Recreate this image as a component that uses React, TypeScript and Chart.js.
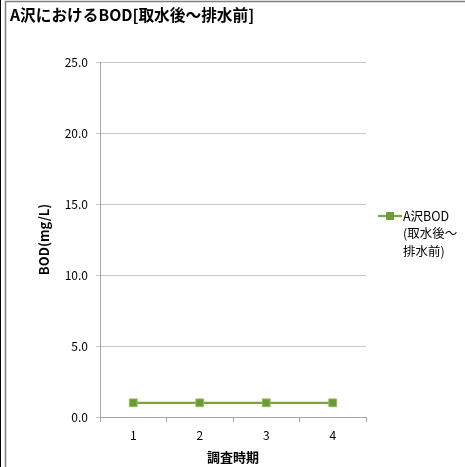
import React, { useEffect, useRef } from "react";
import { Chart, registerables } from "chart.js";

Chart.register(...registerables);

const categories = ["1", "2", "3", "4"];
const bodValues = [1.0, 1.0, 1.0, 1.0];
const seriesName = "A沢BOD(取水後～排水前)";
const legendLines = ["A沢BOD", "(取水後～", "排水前)"];
const titleText = "A沢におけるBOD[取水後～排水前]";
const yTitle = "BOD(mg/L)";
const xTitle = "調査時期";

const LINE_COLOR = "#77a541";
const POINT_FILL = "#6b9a37";
const POINT_BORDER = "#8fbc5a";
const FONT = "'Noto Sans CJK JP', 'Noto Sans', sans-serif";

const decorPlugin = {
  id: "decor",
  beforeDraw(chart: any) {
    const ctx = chart.ctx;
    ctx.save();
    ctx.fillStyle = "#ffffff";
    ctx.fillRect(0, 0, chart.width, chart.height);
    ctx.restore();
  },
  afterDraw(chart: any) {
    const ctx = chart.ctx;
    ctx.save();
    // frame
    ctx.strokeStyle = "#000000";
    ctx.lineWidth = 1;
    ctx.beginPath();
    ctx.moveTo(0.5, 0);
    ctx.lineTo(0.5, chart.height);
    ctx.stroke();
    ctx.strokeStyle = "#7f7f7f";
    ctx.lineWidth = 1.5;
    ctx.beginPath();
    ctx.moveTo(5.5, chart.height + 2);
    ctx.lineTo(5.5, 1.5);
    ctx.lineTo(chart.width + 2, 1.5);
    ctx.stroke();
    // title
    ctx.fillStyle = "#000000";
    ctx.font = "bold 15.7px " + FONT;
    ctx.textBaseline = "middle";
    ctx.textAlign = "left";
    ctx.fillText(titleText, 10, 15);
    // legend
    const lx = 378;
    const ly = 216;
    ctx.strokeStyle = LINE_COLOR;
    ctx.lineWidth = 2.25;
    ctx.beginPath();
    ctx.moveTo(lx, ly);
    ctx.lineTo(lx + 24, ly);
    ctx.stroke();
    ctx.fillStyle = POINT_FILL;
    ctx.fillRect(lx + 8, ly - 4, 8, 8);
    ctx.fillStyle = "#000000";
    ctx.font = "12.5px " + FONT;
    ctx.textBaseline = "middle";
    legendLines.forEach((t, i) => {
      ctx.fillText(t, lx + 25, ly + i * 17.5);
    });
    ctx.restore();
  },
};

export default function App() {
  const ref = useRef<HTMLCanvasElement>(null);
  useEffect(() => {
    document.body.style.margin = "0";
    const chart = new Chart(ref.current as HTMLCanvasElement, {
      type: "line",
      data: {
        labels: categories,
        datasets: [
          {
            label: seriesName,
            data: bodValues,
            borderColor: LINE_COLOR,
            backgroundColor: POINT_FILL,
            borderWidth: 2.25,
            pointStyle: "rect",
            pointRadius: 5.5,
            pointBorderColor: POINT_BORDER,
            pointBorderWidth: 1,
            pointBackgroundColor: POINT_FILL,
          },
        ],
      },
      options: {
        responsive: false,
        animation: false,
        layout: { padding: { left: 36, top: 62, right: 99, bottom: 2 } },
        plugins: {
          legend: { display: false },
          tooltip: { enabled: false },
          title: { display: false },
        },
        scales: {
          x: {
            offset: true,
            grid: {
              offset: true,
              drawOnChartArea: false,
              drawTicks: true,
              tickLength: 5,
              color: "#a6a6a6",
            },
            border: { color: "#a6a6a6" },
            ticks: {
              color: "#000000",
              font: { family: FONT, size: 12 },
              padding: 6,
            },
            title: {
              display: true,
              text: xTitle,
              color: "#000000",
              font: { family: FONT, size: 13, weight: "bold" },
              padding: { top: 2, bottom: 0 },
            },
            afterFit: (scale: any) => {
              scale.height = 48;
            },
          },
          y: {
            min: 0,
            max: 25,
            ticks: {
              stepSize: 5,
              color: "#000000",
              font: { family: FONT, size: 12 },
              padding: 8,
              callback: (v: any) => Number(v).toFixed(1),
            },
            grid: {
              color: "#c8c8c8",
              tickLength: 4,
            },
            border: { color: "#a6a6a6" },
            title: {
              display: true,
              text: yTitle,
              color: "#000000",
              font: { family: FONT, size: 13, weight: "bold" },
              padding: { top: 0, bottom: 14 },
            },
            afterFit: (scale: any) => {
              scale.width = 64;
            },
          },
        },
      },
      plugins: [decorPlugin],
    } as any);
    return () => chart.destroy();
  }, []);
  return <canvas ref={ref} width={465} height={467} style={{ display: "block" }} />;
}
